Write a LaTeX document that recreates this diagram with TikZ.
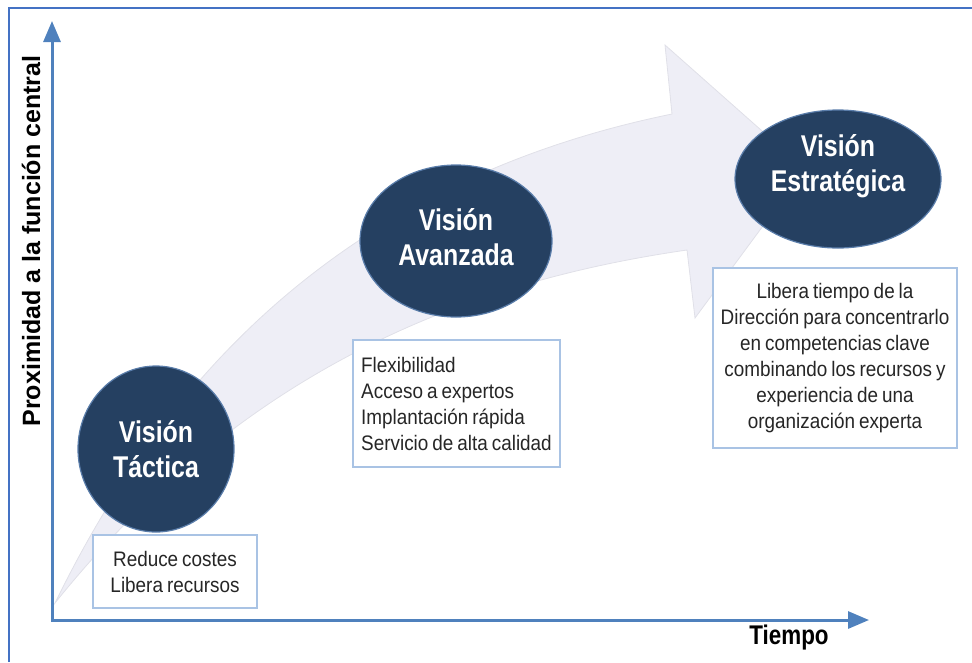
\documentclass[tikz,border=0pt]{standalone}
\usepackage{fontspec}
\setmainfont{Liberation Sans}
\newfontfamily\narrowfont[FakeStretch=0.83]{Liberation Sans}
\newfontfamily\notefont[FakeStretch=0.9]{Liberation Sans}
\newcommand\tightspaces{\spaceskip=4pt plus 1pt minus 1pt\relax}
\usepackage{tikz}
\usetikzlibrary{shapes.geometric,arrows.meta}
\definecolor{frameblue}{HTML}{4472C4}
\definecolor{axisblue}{HTML}{4F81BD}
\definecolor{visionnavy}{HTML}{254061}
\definecolor{visionrim}{HTML}{5A7DAA}
\definecolor{flowfill}{HTML}{EEEEF6}
\definecolor{flowrim}{HTML}{E0E0E8}
\definecolor{noteblue}{HTML}{A9C3E4}
\definecolor{notegray}{HTML}{262626}

\begin{document}
\begin{tikzpicture}[x=1pt,y=-1pt,
  vision/.style={ellipse,fill=visionnavy,draw=visionrim,line width=1.2pt,inner sep=0pt},
  visionlbl/.style={text=white,align=center,font=\narrowfont\bfseries\fontsize{30}{35}\selectfont},
  note/.style={draw=noteblue,fill=white,line width=1.3pt,text=notegray,inner sep=0pt,
    font=\notefont\fontsize{21}{26}\selectfont\tightspaces},
  axis/.style={draw=axisblue,line width=3pt,
    {Triangle[length=21pt,width=17pt]}-{Triangle[length=21pt,width=17pt]}}]
  \useasboundingbox (0,0) rectangle (972,662);
  \draw[frameblue,line width=2.5pt] (9,662) -- (9,8) -- (972,8);
  % big curved arrow behind the visions
  \fill[flowfill,draw=flowrim,line width=0.8pt]
    (55,603) .. controls (140,430) and (300,190) .. (672,114)
    -- (665,45) -- (805,169) -- (695,318) -- (687,250)
    .. controls (480,280) and (250,360) .. (55,603) -- cycle;
  \coordinate (origin) at (52,620);
  \coordinate (ytip) at (52,21);
  \coordinate (xtip) at (869,620);
  \draw[axis] (ytip) -- (origin) -- (xtip);
  \node[rotate=90,font=\bfseries\fontsize{25}{30}\selectfont] (ylabel) at (31,241) {Proximidad a la función central};
  \node[font=\narrowfont\bfseries\fontsize{27}{30}\selectfont] (xlabel) at (789,638) {Tiempo};

  \node[vision,minimum width=156pt,minimum height=166pt] (tactica) at (156,449) {};
  \node[vision,minimum width=192pt,minimum height=152pt] (avanzada) at (456,241) {};
  \node[vision,minimum width=206pt,minimum height=138pt] (estrategica) at (838,179) {};
  \node[visionlbl] (tactica lbl) at (tactica) {Visión\\Táctica};
  \node[visionlbl] (avanzada lbl) at ([yshift=4pt]avanzada) {Visión\\Avanzada};
  \node[visionlbl] (estrategica lbl) at ([yshift=13pt]estrategica) {Visión\\Estratégica};

  \node[note,minimum width=164pt,minimum height=73pt,align=center] (tactica note) at (175,571.5)
    {Reduce costes\\Libera recursos};
  \node[note,minimum width=207pt,minimum height=127pt,align=left] (avanzada note) at (456.5,403.5)
    {Flexibilidad\\Acceso a expertos\\Implantación rápida\\Servicio de alta calidad};
  \node[note,minimum width=244pt,minimum height=180pt,align=center] (estrategica note) at (835,358)
    {Libera tiempo de la\\Dirección para concentrarlo\\en competencias clave\\combinando los recursos y\\experiencia de una\\organización experta};
\end{tikzpicture}
\end{document}
